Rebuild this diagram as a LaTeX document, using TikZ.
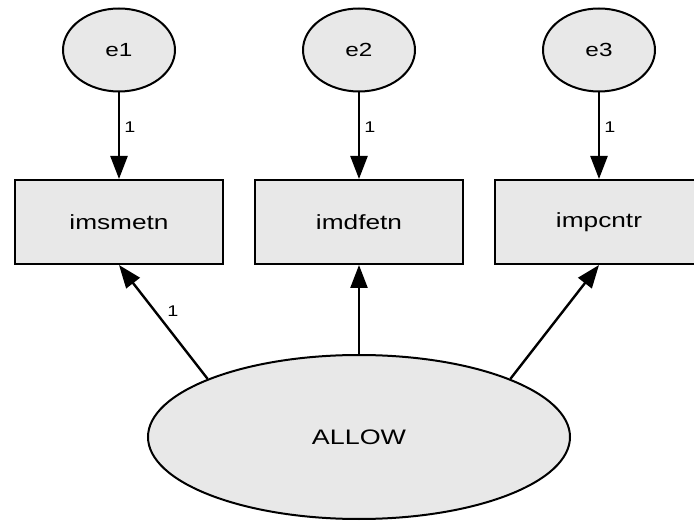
\documentclass[tikz,border=0pt]{standalone}
\usepackage{fontspec}
\setmainfont{Liberation Sans}
\usetikzlibrary{shapes.geometric,arrows.meta}
\newcommand{\wtxt}[1]{\scalebox{1.28}[1]{#1}}
\tikzset{
  base/.style={draw=black, fill=black!9, line width=2pt, inner sep=0pt, font=\fontsize{20.5pt}{22pt}\selectfont},
  errnode/.style={base, ellipse, minimum width=112pt, minimum height=83pt, font=\fontsize{19pt}{21pt}\selectfont},
  obsnode/.style={base, rectangle, minimum width=208pt, minimum height=84pt},
  latnode/.style={base, ellipse, minimum width=422pt, minimum height=164pt, font=\fontsize{21pt}{23pt}\selectfont},
  conn/.style={line width=2.4pt, -{Triangle[length=23pt,width=17pt]}},
  wlab/.style={inner sep=0pt, font=\fontsize{15.5pt}{17pt}\selectfont}
}
\begin{document}
\begin{tikzpicture}[x=1pt,y=-1pt]
\useasboundingbox (0,0) rectangle (694,521);
\node[errnode] (e1) at (119,50) {\wtxt{e1}};
\node[errnode] (e2) at (359,50) {\wtxt{e2}};
\node[errnode] (e3) at (599,50) {\wtxt{e3}};
\node[obsnode] (r1) at (119,222) {\wtxt{imsmetn}};
\node[obsnode] (r2) at (359,222) {\wtxt{imdfetn}};
\node[obsnode] (r3) at (599,222) {\wtxt{impcntr}};
\node[latnode] (A) at (359,437) {\wtxt{ALLOW}};
\draw[conn] (e1) -- (r1);
\draw[conn] (e2) -- (r2);
\draw[conn] (e3) -- (r3);
\draw[conn] (A.159) -- (r1.south);
\draw[conn] (A.north) -- (r2.south);
\draw[conn] (A.21) -- (r3.south);
\node[wlab] (l1) at (130,127) {\wtxt{1}};
\node[wlab] (l2) at (370,127) {\wtxt{1}};
\node[wlab] (l3) at (610,127) {\wtxt{1}};
\node[wlab] (l4) at (173,311) {\wtxt{1}};
\end{tikzpicture}
\end{document}
